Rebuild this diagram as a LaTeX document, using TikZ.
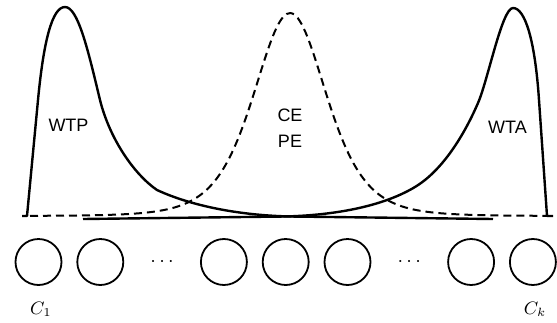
\documentclass[tikz,border=0pt]{standalone}
\usepackage{fontspec}
\setmainfont{Liberation Sans}
\usetikzlibrary{positioning}

\begin{document}
\begin{tikzpicture}[x=0.5pt, y=-0.5pt,
  unit/.style={circle, draw, line width=0.9pt, minimum size=23pt, inner sep=0pt},
  curve/.style={line width=1.2pt, line join=round},
  spread/.style={line width=1pt, dash pattern=on 4pt off 2.5pt},
  tag/.style={font=\fontsize{9}{13.25}\selectfont, align=center, inner sep=0pt},
  idx/.style={font=\small, inner sep=0pt}]
  \useasboundingbox (0,0) rectangle (557,322);
  % output units
  \foreach \i/\x in {1/38.5, 2/100.3, 3/223.9, 4/285.7, 5/347.5, 6/471.1, 7/532.9}
    \node[unit] (c\i) at (\x,262) {};
  \node (d1) at (162.1,262) {$\cdots$};
  \node (d2) at (409.3,262) {$\cdots$};
  \node[idx] (l1) at (41,309) {$C_1$};
  \node[idx] (lk) at (535,309) {$C_k$};
  % curves
  \draw[spread] plot[domain=30:547, samples=140, smooth]
    (\x, {216 - 203/(1+((\x-290)/84.3)^2)^3});
  \draw[curve] (22,216) -- (27,216) -- (38,100)
    .. controls (43.5,42) and (52,7) .. (65,7)
    .. controls (78,7) and (88,50) .. (100,100)
    .. controls (110,140) and (135,175) .. (157,190)
    .. controls (185,203) and (230,215) .. (290,216.5) -- (493,219);
  \draw[curve] (83,219) -- (285,216.5)
    .. controls (340,215) and (385,205) .. (415,187)
    .. controls (440,172) and (462,140) .. (478,103)
    .. controls (488,80) and (502,8) .. (513,8)
    .. controls (525,8) and (535,40) .. (539,100) -- (547,216) -- (553,216);
  % labels
  \node[tag] (wtp) at (68.5,125.5) {WTP};
  \node[tag] (ce) at (290,128) {CE\\PE};
  \node[tag] (wta) at (507.5,127) {WTA};
\end{tikzpicture}
\end{document}
